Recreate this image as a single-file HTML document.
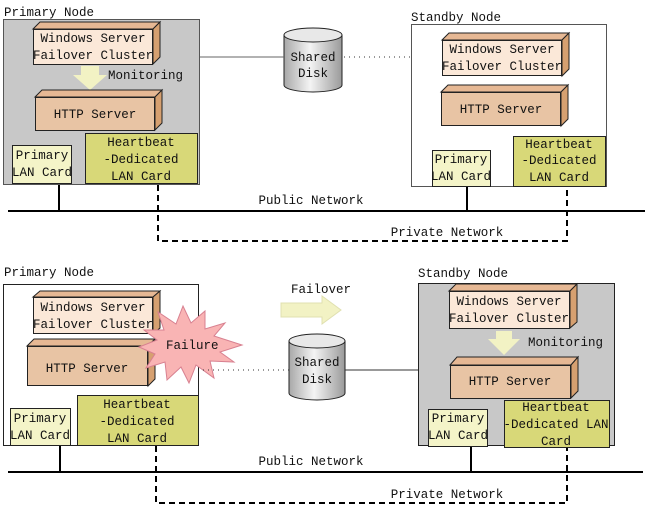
<!DOCTYPE html>
<html><head><meta charset="utf-8"><style>
html,body{margin:0;padding:0;background:#fff;}
svg text{font-family:"Liberation Mono",monospace;font-size:12.5px;fill:#111;}
</style></head><body>
<svg width="649" height="509" viewBox="0 0 649 509" xmlns="http://www.w3.org/2000/svg">
<defs>
<linearGradient id="cyl" x1="0" x2="1" y1="0" y2="0">
<stop offset="0" stop-color="#a8a8a8"/><stop offset="0.45" stop-color="#f4f4f4"/><stop offset="1" stop-color="#9a9a9a"/>
</linearGradient>
</defs>
<g stroke="#222" stroke-width="1">
<!-- ===== TOP ===== -->
<text x="4" y="16" stroke="none">Primary Node</text>
<rect x="3.5" y="19.5" width="196" height="165" fill="#c8c8c8" stroke="#555"/>
<!-- WSFC -->
<polygon points="33,29 40,22 160,22 153,29" fill="#e6b894"/>
<polygon points="153,29 160,22 160,57 153,64" fill="#d6a070"/>
<rect x="33.5" y="29.5" width="119" height="35" fill="#fbe8d8"/>
<!-- arrow -->
<polygon points="81,66 99,66 99,75 107,75 90,90 73,75 81,75" fill="#f2f2c4" stroke="none"/>
<!-- HTTP -->
<polygon points="35,97 42,90 162,90 155,97" fill="#e6b894"/>
<polygon points="155,97 162,90 162,123 155,130" fill="#d6a070"/>
<rect x="35.5" y="97.5" width="119" height="33" fill="#e8c4a4"/>
<rect x="85.5" y="133.5" width="112" height="50" fill="#d8d878"/>
<rect x="12.5" y="145.5" width="59" height="38" fill="#f4f4c8"/>
<!-- disk -->
<path d="M284,35 L284,85 A29,7 0 0 0 342,85 L342,35" fill="url(#cyl)"/>
<ellipse cx="313" cy="35" rx="29" ry="7" fill="#e8e8e8"/>
<line x1="200" y1="57" x2="284" y2="57" stroke="#666"/>
<line x1="344" y1="57" x2="410" y2="57" stroke="#333" stroke-dasharray="1,4"/>
<text x="411" y="21" stroke="none">Standby Node</text>
<rect x="411.5" y="24.5" width="195" height="162" fill="#fff" stroke="#555"/>
<polygon points="442,40 449,33 569,33 562,40" fill="#e6b894"/>
<polygon points="562,40 569,33 569,69 562,76" fill="#d6a070"/>
<rect x="442.5" y="40.5" width="119" height="35" fill="#fbe8d8"/>
<polygon points="441,92 448,85 568,85 561,92" fill="#e6b894"/>
<polygon points="561,92 568,85 568,119 561,126" fill="#d6a070"/>
<rect x="441.5" y="92.5" width="119" height="33" fill="#e8c4a4"/>
<rect x="513.5" y="136.5" width="92" height="50" fill="#d8d878"/>
<rect x="432.5" y="150.5" width="58" height="36" fill="#f4f4c8"/>
<!-- networks -->
<line x1="8" y1="211" x2="645" y2="211" stroke="#000" stroke-width="2"/>
<line x1="59" y1="185" x2="59" y2="211" stroke="#000" stroke-width="2"/>
<line x1="467" y1="187" x2="467" y2="211" stroke="#000" stroke-width="2"/>
<polyline points="158,185 158,241 567,241 567,187" fill="none" stroke="#000" stroke-width="2" stroke-dasharray="6,4"/>

<!-- ===== BOTTOM ===== -->
<text x="4" y="276" stroke="none">Primary Node</text>
<rect x="3.5" y="284.5" width="195" height="161" fill="#fff" stroke="#222"/>
<polygon points="33,297 40,291 160,291 153,297" fill="#e6b894"/>
<polygon points="153,297 160,291 160,328 153,334" fill="#d6a070"/>
<rect x="33.5" y="297.5" width="119" height="36" fill="#fbe8d8"/>
<polygon points="27,346 34,339 155,339 148,346" fill="#e6b894"/>
<polygon points="148,346 155,339 155,379 148,386" fill="#d6a070"/>
<rect x="27.5" y="346.5" width="120" height="39" fill="#e8c4a4"/>
<rect x="77.5" y="395.5" width="121" height="50" fill="#d8d878"/>
<rect x="10.5" y="408.5" width="60" height="37" fill="#f4f4c8"/>
<!-- failure star -->
<polygon fill="#f9b4b4" stroke="#d88090" points="242,345 220,352 234,362 210,361 214,378 196,365 189,383 181,367 167,380 165,362 146,368 155,354 139,347 157,340 144,330 164,330 158,312 176,324 183,306 191,323 205,311 205,329 225,323 214,336"/>
<text x="166" y="349" stroke="none">Failure</text>
<!-- failover arrow -->
<polygon points="281,303 322,303 322,296 341,310 322,324 322,317 281,317" fill="#f2f2c4" stroke="#e0e0b0"/>
<text x="291" y="293" stroke="none">Failover</text>
<!-- disk -->
<path d="M289,341 L289,393 A28,7 0 0 0 345,393 L345,341" fill="url(#cyl)"/>
<ellipse cx="317" cy="341" rx="28" ry="7" fill="#e8e8e8"/>
<line x1="203" y1="370" x2="289" y2="370" stroke="#333" stroke-dasharray="1,4"/>
<line x1="345" y1="370" x2="418" y2="370" stroke="#333"/>
<text x="418" y="277" stroke="none">Standby Node</text>
<rect x="418.5" y="283.5" width="196" height="162" fill="#c8c8c8" stroke="#222"/>
<polygon points="449,291 456,284 577,284 570,291" fill="#e6b894"/>
<polygon points="570,291 577,284 577,322 570,328" fill="#d6a070"/>
<rect x="449.5" y="291.5" width="120" height="37" fill="#fbe8d8"/>
<polygon points="496,331 512,331 512,339 520,339 504,355 488,339 496,339" fill="#f2f2c4" stroke="none"/>
<polygon points="450,365 457,357 578,357 571,365" fill="#e6b894"/>
<polygon points="571,365 578,357 578,391 571,398" fill="#d6a070"/>
<rect x="450.5" y="365.5" width="120" height="33" fill="#e8c4a4"/>
<rect x="504.5" y="400.5" width="105" height="47" fill="#d8d878"/>
<rect x="428.5" y="409.5" width="59" height="37" fill="#f4f4c8"/>
<line x1="8" y1="472" x2="643" y2="472" stroke="#000" stroke-width="2"/>
<line x1="60" y1="446" x2="60" y2="472" stroke="#000" stroke-width="2"/>
<line x1="471" y1="447" x2="471" y2="472" stroke="#000" stroke-width="2"/>
<polyline points="156,446 156,503 567,503 567,448" fill="none" stroke="#000" stroke-width="2" stroke-dasharray="6,4"/>
</g>
<!-- labels top -->
<g text-anchor="middle">
<text x="93" y="42">Windows Server</text>
<text x="93" y="59">Failover Cluster</text>
<text x="95" y="118">HTTP Server</text>
<text x="141" y="146">Heartbeat</text>
<text x="141" y="163">-Dedicated</text>
<text x="141" y="180">LAN Card</text>
<text x="42" y="159">Primary</text>
<text x="42" y="176">LAN Card</text>
<text x="313" y="61">Shared</text>
<text x="313" y="77">Disk</text>
<text x="502" y="53">Windows Server</text>
<text x="502" y="70">Failover Cluster</text>
<text x="501" y="113">HTTP Server</text>
<text x="559" y="148">Heartbeat</text>
<text x="559" y="164">-Dedicated</text>
<text x="559" y="181">LAN Card</text>
<text x="461" y="163">Primary</text>
<text x="461" y="180">LAN Card</text>
<text x="311" y="204">Public Network</text>
<text x="447" y="236">Private Network</text>
<!-- bottom -->
<text x="93" y="311">Windows Server</text>
<text x="93" y="328">Failover Cluster</text>
<text x="87" y="372">HTTP Server</text>
<text x="137" y="408">Heartbeat</text>
<text x="137" y="425">-Dedicated</text>
<text x="137" y="442">LAN Card</text>
<text x="40" y="422">Primary</text>
<text x="40" y="439">LAN Card</text>
<text x="317" y="366">Shared</text>
<text x="317" y="383">Disk</text>
<text x="509" y="305">Windows Server</text>
<text x="509" y="322">Failover Cluster</text>
<text x="510" y="385">HTTP Server</text>
<text x="556" y="411">Heartbeat</text>
<text x="556" y="428">-Dedicated LAN</text>
<text x="556" y="445">Card</text>
<text x="458" y="422">Primary</text>
<text x="458" y="439">LAN Card</text>
<text x="311" y="465">Public Network</text>
<text x="447" y="498">Private Network</text>
</g>
<text x="108" y="79">Monitoring</text>
<text x="528" y="346">Monitoring</text>
</svg>
</body></html>
